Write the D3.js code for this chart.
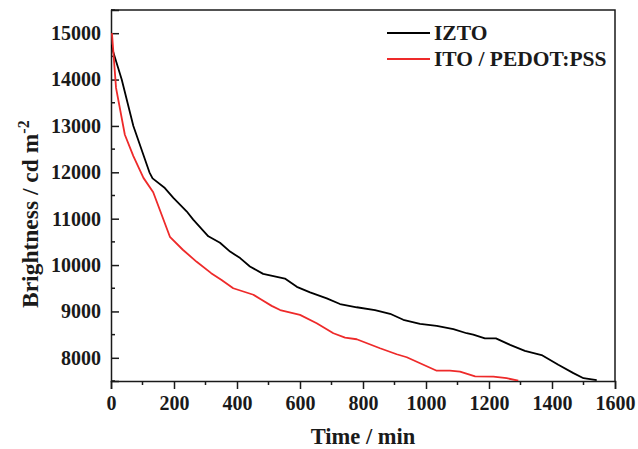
<!DOCTYPE html>
<html>
<head>
<meta charset="utf-8">
<script src="https://cdn.jsdelivr.net/npm/d3@7"></script>
<style>
  html, body { margin: 0; padding: 0; background: #fff; }
  svg { display: block; }
  text { font-family: "Liberation Serif", "Times New Roman", serif; font-weight: bold; fill: #1a1a1a; }
</style>
</head>
<body>
<svg id="chart" width="638" height="449"></svg>
<script>
// ---- data ----
const seriesNames = ["IZTO", "ITO / PEDOT:PSS"];
const iztoTime = [0, 34, 71, 122, 132, 171, 198, 240, 261, 309, 346, 378, 410, 441, 483, 552, 590, 632, 685, 727, 780, 838, 886, 928, 981, 1034, 1087, 1129, 1150, 1187, 1222, 1267, 1314, 1367, 1420, 1468, 1500, 1542];
const iztoBrightness = [14750, 14000, 13000, 12000, 11870, 11660, 11450, 11160, 10980, 10620, 10480, 10290, 10150, 9970, 9810, 9710, 9530, 9410, 9280, 9160, 9090, 9030, 8950, 8820, 8730, 8690, 8620, 8530, 8500, 8420, 8420, 8280, 8150, 8060, 7850, 7670, 7560, 7520];
const itoTime = [3, 16, 44, 71, 103, 134, 187, 228, 272, 318, 351, 388, 452, 478, 510, 537, 600, 653, 706, 743, 780, 854, 907, 939, 1034, 1076, 1108, 1156, 1214, 1256, 1293];
const itoBrightness = [15000, 13820, 12810, 12350, 11880, 11570, 10610, 10330, 10070, 9826, 9680, 9500, 9360, 9250, 9120, 9030, 8925, 8746, 8530, 8435, 8400, 8206, 8077, 8012, 7722, 7722, 7700, 7600, 7595, 7560, 7507];
const xTicks = [0, 200, 400, 600, 800, 1000, 1200, 1400, 1600];
const yTicks = [8000, 9000, 10000, 11000, 12000, 13000, 14000, 15000];
const xMinorTicks = d3.range(100, 1600, 200);
const yMinorTicks = [7500, 8500, 9500, 10500, 11500, 12500, 13500, 14500, 15500];
const colors = ["#000000", "#ee2a2a"];

// ---- layout ----
const svg = d3.select("#chart");
const mLeft = 111, mRight = 615, mTop = 10, mBottom = 381;
const x = d3.scaleLinear().domain([0, 1600]).range([mLeft, mRight]);
const y = d3.scaleLinear().domain([7500, 15500]).range([mBottom, mTop]);

// frame (top & right)
svg.append("path")
  .attr("d", `M${mLeft},${mTop}H${mRight}V${mBottom}`)
  .attr("fill", "none").attr("stroke", "#1a1a1a").attr("stroke-width", 1.5);

// x axis (ticks outward)
const gx = svg.append("g").attr("transform", `translate(0,${mBottom})`)
  .call(d3.axisBottom(x).tickValues(xTicks).tickSize(8).tickPadding(4).tickFormat(d3.format("d")));
gx.append("g").selectAll("line").data(xMinorTicks).join("line")
  .attr("x1", d => x(d)).attr("x2", d => x(d)).attr("y1", 0).attr("y2", 4)
  .attr("stroke", "#1a1a1a").attr("stroke-width", 1.5);

// y axis (ticks inward)
const gy = svg.append("g").attr("transform", `translate(${mLeft},0)`)
  .call(d3.axisLeft(y).tickValues(yTicks).tickSize(-8).tickPadding(10).tickFormat(d3.format("d")));
gy.append("g").selectAll("line").data(yMinorTicks).join("line")
  .attr("x1", 0).attr("x2", 4).attr("y1", d => y(d)).attr("y2", d => y(d))
  .attr("stroke", "#1a1a1a").attr("stroke-width", 1.5);

[gx, gy].forEach(g => {
  g.select(".domain").attr("stroke", "#1a1a1a").attr("stroke-width", 1.5);
  g.selectAll(".tick line").attr("stroke", "#1a1a1a").attr("stroke-width", 1.5);
  g.selectAll(".tick text").attr("font-size", 20).attr("fill", "#1a1a1a")
    .attr("font-family", "'Liberation Serif', 'Times New Roman', serif").attr("font-weight", "bold");
});
gy.selectAll(".tick text").attr("x", -10);
gx.selectAll(".tick text").attr("dy", "0.72em").attr("y", 15);

// lines
const line = d3.line().x(d => x(d[0])).y(d => y(d[1]));
const data = [
  d3.zip(iztoTime, iztoBrightness),
  d3.zip(itoTime, itoBrightness)
];
svg.append("clipPath").attr("id", "clip").append("rect")
  .attr("x", mLeft).attr("y", mTop).attr("width", mRight - mLeft).attr("height", mBottom - mTop);
svg.append("g").attr("clip-path", "url(#clip)").selectAll("path").data(data).join("path")
  .attr("d", line).attr("fill", "none")
  .attr("stroke", (d, i) => colors[i]).attr("stroke-width", 1.8)
  .attr("stroke-linejoin", "round");

// legend
const legY = [33, 59];
const leg = svg.append("g");
seriesNames.forEach((name, i) => {
  leg.append("line").attr("x1", 387).attr("x2", 430).attr("y1", legY[i]).attr("y2", legY[i])
    .attr("stroke", colors[i]).attr("stroke-width", 1.8);
  leg.append("text").attr("x", 434).attr("y", legY[i] + 7).attr("font-size", 21.5).text(name);
});

// axis titles
svg.append("text").attr("x", (mLeft + mRight) / 2).attr("y", 444)
  .attr("text-anchor", "middle").attr("font-size", 22.5).text("Time / min");

const yt = svg.append("text").attr("transform", "translate(38,308) rotate(-90)")
  .attr("text-anchor", "start").attr("font-size", 23.5);
yt.append("tspan").text("Brightness / cd m");
yt.append("tspan").attr("dy", -9).attr("font-size", 16).text("-2");
</script>
</body>
</html>
